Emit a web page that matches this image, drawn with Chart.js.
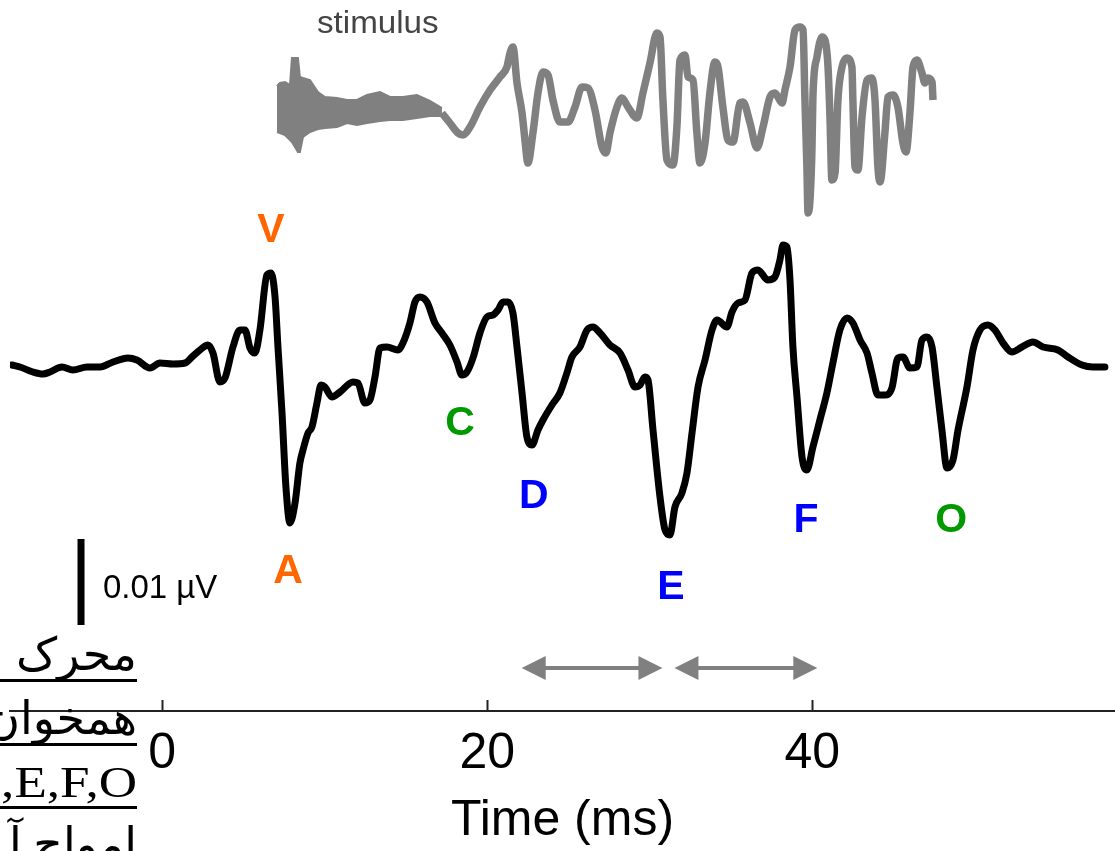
<!DOCTYPE html>
<html>
<head>
<meta charset="utf-8">
<script src="https://cdn.jsdelivr.net/npm/chart.js@4.4.1/dist/chart.umd.min.js"></script>
<style>
  html, body { margin: 0; padding: 0; background: #fff; }
  #wrap { width: 1115px; height: 851px; position: relative; }
</style>
</head>
<body>
<div id="wrap"><canvas id="c"></canvas></div>
<script>
// ---------------- data ----------------
// x: time in ms ; y: amplitude in arbitrary units (response baseline = 0)
const timeTicks = [0, 20, 40];

const responseTime = [-9.25,-8.76,-7.96,-7.34,-6.91,-6.17,-5.50,-4.63,-3.83,-3.03,-2.11,-1.56,-0.76,-0.14,0.66,1.40,1.83,2.32,2.81,3.12,3.55,3.86,4.35,4.78,5.09,5.40,5.70,6.01,6.44,6.69,6.94,7.12,7.37,7.61,7.86,8.17,8.47,8.66,8.97,9.21,9.52,9.77,10.01,10.44,10.94,11.74,12.04,12.47,12.78,13.09,13.40,13.83,14.50,14.81,15.24,15.55,15.86,16.29,16.78,17.21,17.70,18.14,18.44,18.75,19.12,19.55,19.98,20.35,20.66,20.97,21.27,21.58,21.83,22.14,22.44,22.75,23.12,23.43,23.98,24.47,24.90,25.21,25.70,26.14,26.50,26.94,27.55,28.17,28.66,29.09,29.40,29.70,29.89,30.20,30.63,30.94,31.24,31.55,31.98,32.29,32.60,32.97,33.40,33.83,34.14,34.75,35.06,35.43,35.86,36.29,36.66,37.27,37.70,38.01,38.20,38.44,38.63,38.81,39.06,39.37,39.67,40.04,40.47,40.90,41.27,41.70,42.14,42.50,42.94,43.37,43.67,44.04,44.47,44.90,45.27,45.58,46.01,46.44,46.75,47.06,47.37,47.67,47.98,48.29,48.66,48.97,49.52,49.89,50.32,50.81,51.24,51.74,52.29,52.90,53.58,54.20,55.12,55.74,56.60,57.27,58.01];
const responseAmp = [0,-2,-7,-9,-7,-2,-5,-2,-2,3,7,5,-3,2,1,2,8,15,20,12,-17,-13,18,35,35,17,12,35,90,92,68,18,-48,-122,-158,-138,-98,-85,-68,-62,-38,-20,-22,-32,-27,-17,-18,-38,-35,-12,17,18,15,22,42,63,68,63,42,32,20,3,-10,-7,7,32,48,50,55,63,63,52,18,-28,-72,-80,-65,-55,-40,-28,-8,8,18,35,38,32,20,12,-5,-22,-20,-12,-15,-65,-132,-165,-170,-142,-128,-108,-68,-22,5,35,45,38,53,62,65,92,95,85,88,105,120,118,85,18,-32,-92,-105,-82,-55,-28,2,35,47,42,25,12,-8,-30,-30,-23,7,8,-3,-2,25,28,18,-22,-65,-103,-95,-65,-22,15,35,40,35,22,13,18,23,18,15,8,0,-2,-2];

// stimulus waveform (own amplitude axis, baseline = 0)
const stimTime = [17.21,17.70,18.20,18.50,18.94,19.55,20.17,20.78,21.21,21.40,21.58,21.83,22.14,22.32,22.50,22.81,23.12,23.43,23.74,24.04,24.47,24.97,25.40,25.83,26.20,26.63,27.06,27.30,27.55,27.98,28.29,28.66,29.21,29.58,30.01,30.44,30.63,30.81,31.06,31.43,31.67,31.86,32.17,32.35,32.66,32.90,33.09,33.40,33.70,34.01,34.20,34.50,34.81,35.12,35.55,35.74,36.17,36.60,36.97,37.40,37.70,38.14,38.32,38.63,38.94,39.24,39.43,39.55,39.67,39.74,39.86,39.98,40.04,40.29,40.60,40.78,40.97,41.09,41.21,41.40,41.58,41.83,42.14,42.44,42.50,42.63,42.81,43.06,43.37,43.67,43.86,44.04,44.17,44.47,44.66,44.97,45.27,45.58,45.77,46.01,46.20,46.44,46.75,46.93,47.12,47.37,47.43];
const stimAmp = [-13,-23,-33,-35,-27,-7,10,23,33,47,53,17,-13,-40,-63,-33,7,28,25,0,-22,-22,-7,13,12,-10,-47,-53,-33,-7,2,-7,-18,7,37,67,63,0,-60,-65,-27,40,45,23,20,-33,-63,-43,7,38,33,-7,-40,-42,-3,-2,-23,-48,-27,3,7,-3,10,33,70,73,70,0,-67,-113,-100,-50,3,43,63,60,33,-17,-80,-73,0,33,42,33,0,-67,-70,-17,20,22,0,-67,-82,-33,3,5,-7,-43,-52,-13,33,40,27,17,22,18,0];

// stimulus onset burst: upper / lower envelope
const burstTime  = [7.06,7.24,7.55,7.86,7.98,8.35,8.47,8.66,9.09,9.58,10.01,10.75,11.37,11.98,12.60,13.40,14.01,14.81,15.67,16.47,17.21];
const burstUpper = [14,17,18,15,42,42,23,22,20,8,3,2,0,0,5,8,3,3,5,-1,-8];
const burstLower = [-32,-33,-35,-40,-42,-52,-52,-37,-32,-29,-28,-27,-23,-25,-23,-21,-20,-20,-18,-16,-16];

// wave labels (anchor in time / amplitude)
const waveNames = ['V','A','C','D','E','F','O'];
const waveLabelTime = [6.69, 7.74, 18.32, 22.87, 31.30, 39.61, 48.55];
const waveLabelAmp  = [138, -203, -55, -128, -219, -152, -152];

// inter-peak intervals (ms)
const intervalStart = [22.12, 31.52];
const intervalEnd   = [30.78, 40.31];
const intervalAmp = -303;

// calibration bar
const scaleBarTime = [-5.0, -5.0];
const scaleBarAmp = [-174, -260];
const scaleBarText = '0.01 µV';
const scaleTextAnchor = [-3.65, -233];

const stimText = 'stimulus';
const stimTextAnchor = [9.52, 67];

const slideLines = ['محرک', 'همخوان', 'A,C,D,E,F,O', 'امواج آ'];

// ---------------- styles ----------------
const waveColor = { V:'#FF6600', A:'#FF6600', C:'#009900', O:'#009900', D:'#0000FF', E:'#0000FF', F:'#0000FF' };
const GREY = '#808080';
const SANS = '"Liberation Sans", Arial, Helvetica, sans-serif';

const pts = (xs, ys) => xs.map((x, i) => ({ x: x, y: ys[i] }));

const overlay = {
  id: 'overlay',
  beforeDraw(chart) {
    const c = chart.ctx; c.save(); c.fillStyle = '#fff'; c.fillRect(0, 0, chart.width, chart.height); c.restore();
  },
  afterDraw(chart) {
    const ctx = chart.ctx, xs = chart.scales.x, ys = chart.scales.y, ys2 = chart.scales.y2;
    ctx.save();
    // inward tick marks
    ctx.strokeStyle = '#222'; ctx.lineWidth = 2;
    xs.ticks.forEach(t => {
      const px = Math.round(xs.getPixelForValue(t.value)) + 0.5;
      ctx.beginPath(); ctx.moveTo(px, xs.top); ctx.lineTo(px, xs.top - 11); ctx.stroke();
    });
    // interval arrows
    ctx.fillStyle = GREY; ctx.strokeStyle = GREY;
    intervalStart.forEach((a, i) => {
      const x1 = xs.getPixelForValue(a), x2 = xs.getPixelForValue(intervalEnd[i]);
      const y = ys.getPixelForValue(intervalAmp);
      const hl = 24, hw = 12;
      ctx.lineWidth = 4;
      ctx.beginPath(); ctx.moveTo(x1 + hl - 2, y); ctx.lineTo(x2 - hl + 2, y); ctx.stroke();
      ctx.beginPath(); ctx.moveTo(x1, y); ctx.lineTo(x1 + hl, y - hw); ctx.lineTo(x1 + hl, y + hw); ctx.closePath(); ctx.fill();
      ctx.beginPath(); ctx.moveTo(x2, y); ctx.lineTo(x2 - hl, y - hw); ctx.lineTo(x2 - hl, y + hw); ctx.closePath(); ctx.fill();
    });
    // wave labels
    const fs = 41;
    ctx.font = 'bold ' + fs + 'px ' + SANS;
    ctx.textAlign = 'center'; ctx.textBaseline = 'alphabetic';
    waveNames.forEach((n, i) => {
      ctx.fillStyle = waveColor[n];
      ctx.fillText(n, xs.getPixelForValue(waveLabelTime[i]), ys.getPixelForValue(waveLabelAmp[i]) + fs * 0.358);
    });
    // stimulus text (slightly widened as in the slide)
    ctx.font = '31px ' + SANS; ctx.fillStyle = '#444'; ctx.textAlign = 'left';
    const sx = xs.getPixelForValue(stimTextAnchor[0]), sy = ys2.getPixelForValue(stimTextAnchor[1]);
    ctx.save(); ctx.translate(sx, sy); ctx.scale(1.07, 1); ctx.fillText(stimText, 0, 0); ctx.restore();
    // calibration text
    ctx.font = '33px ' + SANS; ctx.fillStyle = '#000';
    ctx.fillText(scaleBarText, xs.getPixelForValue(scaleTextAnchor[0]), ys.getPixelForValue(scaleTextAnchor[1]));
    // slide text (Persian, right-to-left, underlined)
    const rightEdge = 137, baselines = [670, 734, 797, 860];
    slideLines.forEach((s, i) => {
      const latin = /^[A-Z]/.test(s);
      ctx.save();
      ctx.translate(rightEdge, baselines[i]);
      if (latin) {
        ctx.font = '45px "Liberation Serif", "Times New Roman", serif';
        ctx.direction = 'ltr'; ctx.scale(1.18, 1);
      } else {
        ctx.font = '46px "Liberation Serif", "DejaVu Sans", serif';
        ctx.direction = 'rtl';
      }
      ctx.textAlign = 'right'; ctx.fillStyle = '#000';
      ctx.fillText(s, 0, 0);
      ctx.restore();
      ctx.fillStyle = '#000';
      ctx.fillRect(0, baselines[i] + 9, rightEdge, 3);
    });
    ctx.restore();
  }
};

new Chart(document.getElementById('c'), {
  type: 'scatter',
  data: {
    datasets: [
      { label: 'response', data: pts(responseTime, responseAmp), yAxisID: 'y', showLine: true,
        borderColor: '#000', borderWidth: 7, pointRadius: 0, borderJoinStyle: 'round', borderCapStyle: 'round',
        cubicInterpolationMode: 'monotone' },
      { label: 'stimulus', data: pts(stimTime, stimAmp), yAxisID: 'y2', showLine: true,
        borderColor: GREY, borderWidth: 7.5, pointRadius: 0, borderJoinStyle: 'round', borderCapStyle: 'butt',
        cubicInterpolationMode: 'monotone' },
      { label: 'burst upper', data: pts(burstTime, burstUpper), yAxisID: 'y2', showLine: true,
        borderColor: GREY, backgroundColor: GREY, borderWidth: 2, pointRadius: 0, fill: '+1', tension: 0 },
      { label: 'burst lower', data: pts(burstTime, burstLower), yAxisID: 'y2', showLine: true,
        borderColor: GREY, borderWidth: 2, pointRadius: 0, fill: false, tension: 0 },
      { label: 'scale bar', data: pts(scaleBarTime, scaleBarAmp), yAxisID: 'y', showLine: true,
        borderColor: '#000', borderWidth: 7, pointRadius: 0, borderCapStyle: 'butt' }
    ]
  },
  options: {
    responsive: true, maintainAspectRatio: false, animation: false, events: [],
    layout: { padding: { left: 10, right: 0, top: 0, bottom: 0 } },
    plugins: { legend: { display: false }, tooltip: { enabled: false }, title: { display: false } },
    scales: {
      x: {
        type: 'linear', min: -9.37, max: 58.63,
        afterBuildTicks: axis => { axis.ticks = timeTicks.map(v => ({ value: v })); },
        afterFit: axis => { axis.height = 140; },
        grid: { display: true, drawOnChartArea: false, drawTicks: false },
        border: { display: true, color: '#222', width: 2 },
        ticks: { color: '#000', padding: 13, font: { family: SANS, size: 50 } },
        title: { display: true, text: 'Time (ms)', color: '#000', font: { family: SANS, size: 50 }, padding: { top: 0, bottom: 0 } }
      },
      y:  { type: 'linear', display: false, min: -346, max: 365 },
      y2: { type: 'linear', display: false, min: -611, max: 100 }
    }
  },
  plugins: [overlay]
});
</script>
</body>
</html>
